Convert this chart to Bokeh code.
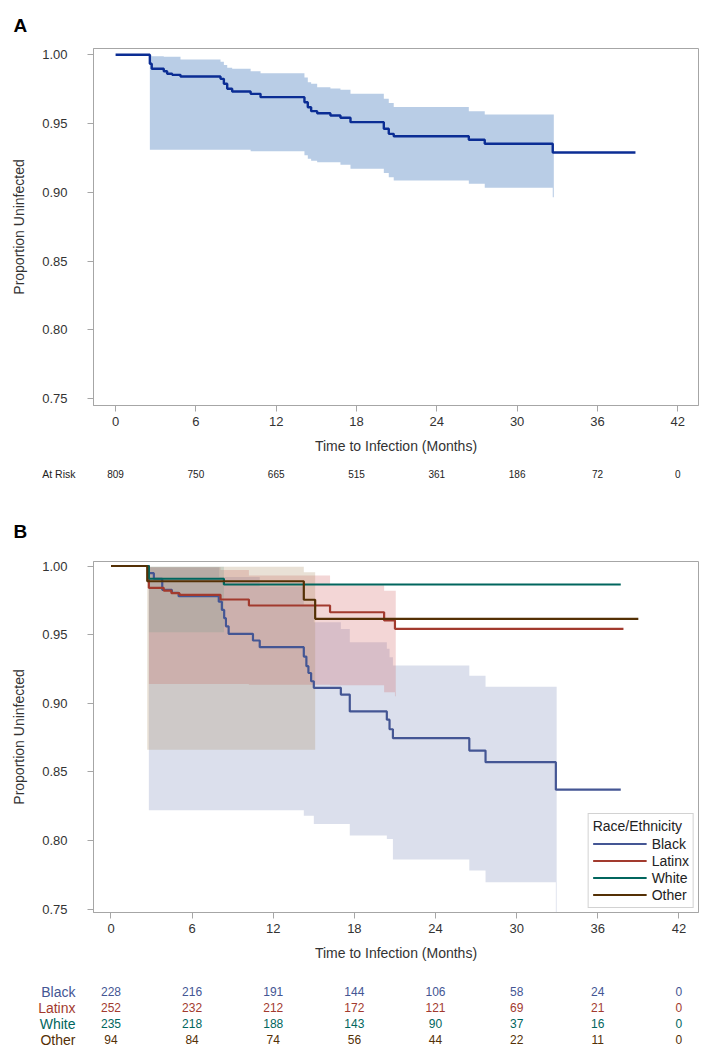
from bokeh.plotting import figure
from bokeh.models import (Range1d, FixedTicker, NumeralTickFormatter, Legend, LegendItem, FactorRange)
from bokeh.layouts import column
from bokeh.embed import file_html
from bokeh.resources import INLINE
from bokeh.core.properties import value

# ---------------- data ----------------
x_ticks = [0, 6, 12, 18, 24, 30, 36, 42]
y_ticks = [0.75, 0.80, 0.85, 0.90, 0.95, 1.00]

# Panel A: overall Kaplan-Meier estimate
timeA = [0, 2.56, 2.7, 3.6, 3.85, 4.23, 4.85, 7.84, 8.09, 8.34, 8.71, 10.09, 10.83, 14.11, 14.36,
         14.61, 15.06, 16.05, 16.8, 17.55, 20.04, 20.41, 20.78, 26.39, 27.58, 32.66, 38.84]
survA = [1.0, 0.9935, 0.9898, 0.988, 0.9862, 0.9854, 0.9842, 0.9825, 0.9789, 0.9753, 0.9733, 0.9716,
         0.9692, 0.9655, 0.9619, 0.959, 0.9575, 0.9558, 0.9542, 0.951, 0.9462, 0.9425, 0.9408, 0.9382,
         0.9353, 0.9289, 0.9289]
bandA_t = [2.56, 2.7, 3.6, 4.85, 7.84, 8.09, 8.34, 8.71, 10.09, 10.83, 14.11, 14.36, 14.61, 15.06,
           16.05, 16.8, 17.55, 20.04, 20.41, 20.78, 26.39, 27.58, 32.66, 32.74]
bandA_hi = [0.9995, 0.999, 0.9985, 0.9966, 0.995, 0.9925, 0.9905, 0.9898, 0.988, 0.9866, 0.9835, 0.98,
            0.9789, 0.9764, 0.9755, 0.9745, 0.9716, 0.968, 0.965, 0.962, 0.959, 0.9566, 0.9566, 0.9566]
bandA_lo = [0.9309, 0.9309, 0.9309, 0.9309, 0.9309, 0.9309, 0.9309, 0.9309, 0.9299, 0.9299, 0.927,
            0.9244, 0.923, 0.9219, 0.9219, 0.92, 0.9171, 0.914, 0.911, 0.9086, 0.9062, 0.9033, 0.8964,
            0.8964]
at_risk_A = [809, 750, 665, 515, 361, 186, 72, 0]

# Panel B: by race/ethnicity
groups = ["Black", "Latinx", "White", "Other"]
line_colors = ["#445694", "#A23A2E", "#01665E", "#543005"]
fill_colors = ["#6F7EB3", "#D05B5B", "#66A5A0", "#A9865B"]

time_black = [0, 2.8, 3.17, 3.79, 4.5, 5.0, 7.97, 8.2, 8.37, 8.5, 8.7, 10.5, 11.0, 14.26, 14.45, 14.6,
              14.8, 15.0, 17.0, 17.66, 20.4, 20.6, 20.85, 26.5, 27.7, 32.9, 37.7]
surv_black = [1.0, 0.9948, 0.9907, 0.9826, 0.9805, 0.978, 0.974, 0.968, 0.962, 0.956, 0.9506, 0.9457,
              0.9408, 0.934, 0.927, 0.922, 0.916, 0.9112, 0.9063, 0.894, 0.888, 0.881, 0.8745, 0.8655,
              0.857, 0.837, 0.837]
time_latinx = [0, 2.8, 3.9, 4.47, 5.07, 8.1, 10.2, 16.2, 20.2, 21.0, 37.9]
surv_latinx = [1.0, 0.9841, 0.9821, 0.9802, 0.979, 0.9756, 0.9712, 0.9663, 0.9603, 0.9542, 0.9542]
time_white = [0, 2.8, 8.35, 37.7]
surv_white = [1.0, 0.9907, 0.9865, 0.9865]
time_other = [0, 2.68, 14.26, 15.1, 39.0]
surv_other = [1.0, 0.9889, 0.9754, 0.9615, 0.9615]

band_black_t = [2.8, 8.0, 11.0, 14.26, 15.0, 17.0, 17.66, 20.4, 20.6, 20.85, 26.5, 27.7, 32.9, 32.96]
band_black_hi = [0.999, 0.992, 0.985, 0.972, 0.959, 0.954, 0.9445, 0.9396, 0.9335, 0.9275, 0.92,
                 0.912, 0.912, 0.912]
band_black_lo = [0.822, 0.822, 0.822, 0.818, 0.812, 0.812, 0.8036, 0.801, 0.801, 0.786, 0.778,
                 0.7695, 0.70, 0.70]
band_latinx_t = [2.8, 8.1, 10.2, 16.2, 20.2, 21.0, 21.06]
band_latinx_hi = [0.999, 0.997, 0.993, 0.986, 0.982, 0.982, 0.982]
band_latinx_lo = [0.914, 0.914, 0.9135, 0.913, 0.908, 0.905, 0.905]
band_white_t = [2.8, 8.35]
band_white_hi = [0.9995, 0.9995]
band_white_lo = [0.9518, 0.9518]
band_other_t = [2.68, 14.26, 15.1]
band_other_hi = [0.9995, 0.9955, 0.9955]
band_other_lo = [0.866, 0.866, 0.866]

at_risk_black = [228, 216, 191, 144, 106, 58, 24, 0]
at_risk_latinx = [252, 232, 212, 172, 121, 69, 21, 0]
at_risk_white = [235, 218, 188, 143, 90, 37, 16, 0]
at_risk_other = [94, 84, 74, 56, 44, 22, 11, 0]

# ---------------- styling helpers ----------------
FONT = "Liberation Sans"
AXC = "#a6a6a6"
TXT = "#333333"
LEFT = 93      # frame left edge (page px)
RIGHT = 9      # space right of the frame
FW = 605       # frame width


def main_fig(xr, yr, fh, top, bottom, title, standoff, valign):
    p = figure(x_range=xr, y_range=yr, frame_width=FW, frame_height=fh,
               min_border_left=LEFT, min_border_right=RIGHT, min_border_top=top,
               min_border_bottom=bottom, toolbar_location=None, output_backend="svg",
               title=title)
    p.title.align = "left"
    p.title.offset = -80
    p.title.standoff = standoff
    p.title.vertical_align = valign
    p.title.text_font = FONT
    p.title.text_font_size = "19px"
    p.title.text_font_style = "bold"
    p.title.text_color = "black"
    p.xgrid.visible = False
    p.ygrid.visible = False
    p.outline_line_color = AXC
    p.xaxis.ticker = FixedTicker(ticks=x_ticks)
    p.yaxis.ticker = FixedTicker(ticks=y_ticks)
    p.yaxis.formatter = NumeralTickFormatter(format="0.00")
    for ax in (p.xaxis[0], p.yaxis[0]):
        ax.axis_line_color = AXC
        ax.major_tick_line_color = AXC
        ax.minor_tick_line_color = None
        ax.major_tick_out = 6
        ax.major_tick_in = 0
        ax.major_label_text_font = FONT
        ax.major_label_text_font_size = "13px"
        ax.major_label_text_color = TXT
        ax.axis_label_text_font = FONT
        ax.axis_label_text_font_size = "14px"
        ax.axis_label_text_font_style = "normal"
        ax.axis_label_text_color = TXT
    p.xaxis.axis_label = "Time to Infection (Months)"
    p.yaxis.axis_label = "Proportion Uninfected"
    p.xaxis.major_label_standoff = 5
    p.xaxis.axis_label_standoff = 9
    p.yaxis.major_label_standoff = 20
    p.yaxis.axis_label_standoff = 12
    return p


def risk_row(xr, label, label_color, label_size, counts, count_color, count_size, fh, top):
    p = figure(x_range=xr, y_range=FactorRange(factors=[label], range_padding=0),
               frame_width=FW, frame_height=fh, min_border_left=LEFT, min_border_right=RIGHT,
               min_border_top=top, min_border_bottom=0, toolbar_location=None,
               output_backend="svg", x_axis_type=None)
    p.xgrid.visible = False
    p.ygrid.visible = False
    p.outline_line_color = None
    ax = p.yaxis[0]
    ax.axis_line_color = None
    ax.major_tick_line_color = None
    ax.minor_tick_line_color = None
    ax.major_label_standoff = 12
    ax.major_label_text_font = FONT
    ax.major_label_text_font_size = label_size
    ax.major_label_text_color = label_color
    p.text(x=x_ticks, y=[label] * len(x_ticks), text=[str(v) for v in counts],
           text_font=value(FONT), text_font_size=count_size, text_color=count_color,
           text_align="center", text_baseline="middle")
    return p


# ---------------- panel A ----------------
xrA = Range1d(-1.65, 43.55)
pA = main_fig(xrA, Range1d(0.7449, 1.00458), 357, 48, 52, "A", 22, "top")
pA.varea_step(x=bandA_t, y1=bandA_lo, y2=bandA_hi, step_mode="after",
              fill_color="#b9cde6", fill_alpha=1.0)
pA.step(timeA, survA, mode="after", line_color="#0b2d94", line_width=2.4)

rA = risk_row(xrA, "At Risk", "#222222", "10.5px", at_risk_A, "#222222", "10px", 32, 0)

# ---------------- panel B ----------------
xrB = Range1d(-1.294, 43.45)
pB = main_fig(xrB, Range1d(0.74745, 1.00328), 351, 72, 55, "B", 40, "bottom")

bands = [(band_black_t, band_black_lo, band_black_hi),
         (band_latinx_t, band_latinx_lo, band_latinx_hi),
         (band_white_t, band_white_lo, band_white_hi),
         (band_other_t, band_other_lo, band_other_hi)]
curves = [(time_black, surv_black), (time_latinx, surv_latinx),
          (time_white, surv_white), (time_other, surv_other)]

for (bt, lo, hi), fc in zip(bands, fill_colors):
    pB.varea_step(x=bt, y1=lo, y2=hi, step_mode="after", fill_color=fc, fill_alpha=0.25)

line_renderers = []
for (t, s), lc in zip(curves, line_colors):
    line_renderers.append(pB.step(t, s, mode="after", line_color=lc, line_width=2.2))

legend = Legend(items=[LegendItem(label=g, renderers=[r]) for g, r in zip(groups, line_renderers)],
                title="Race/Ethnicity", location="bottom_right", margin=4, padding=4, spacing=0,
                label_height=17, glyph_height=17, glyph_width=54, label_standoff=5,
                title_standoff=1, border_line_color=AXC, background_fill_alpha=1.0)
legend.label_text_font = FONT
legend.label_text_font_size = "14px"
legend.label_text_color = "#222222"
legend.title_text_font = FONT
legend.title_text_font_size = "14px"
legend.title_text_font_style = "normal"
legend.title_text_color = "#222222"
pB.add_layout(legend)

risk_tables = [at_risk_black, at_risk_latinx, at_risk_white, at_risk_other]
rows_B = []
for i, (g, tbl, col) in enumerate(zip(groups, risk_tables, line_colors)):
    rows_B.append(risk_row(xrB, g, col, "14px", tbl, col, "12px", 16, 16 if i == 0 else 0))

layout = column(pA, rA, pB, *rows_B, spacing=0)
open("out.html", "w").write(file_html(layout, INLINE))
